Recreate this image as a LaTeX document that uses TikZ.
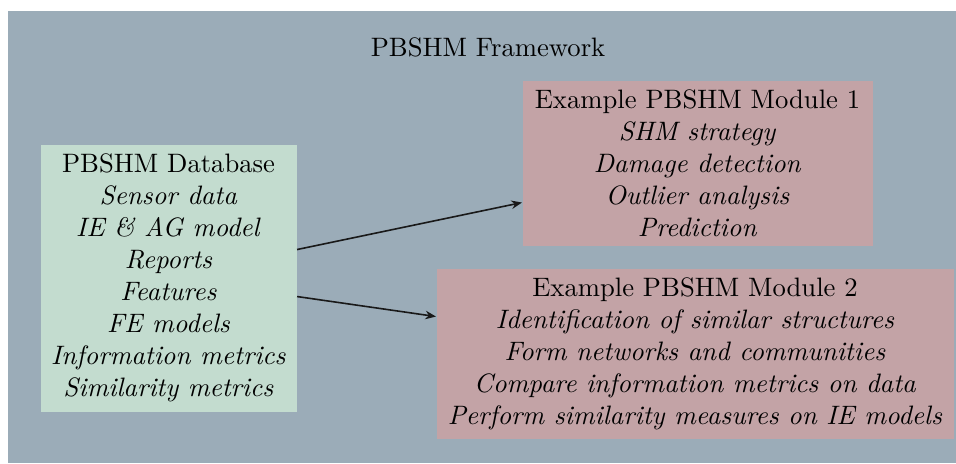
\documentclass[tikz,border=0pt]{standalone}
\usetikzlibrary{arrows.meta,calc}
\definecolor{bgframe}{HTML}{9BACB8}
\definecolor{dbgreen}{HTML}{C3DCCF}
\definecolor{modpink}{HTML}{C3A3A6}
\begin{document}
\begin{tikzpicture}[x=0.3752pt,y=-0.3752pt,
  box/.style={align=center, inner sep=0pt, anchor=north west},
  conn/.style={-{Stealth[length=4pt,width=3.2pt]}, semithick, black!90}]
\useasboundingbox (0,0) rectangle (956,463);
\fill[bgframe] (8,11) rectangle (956,463);
\node[anchor=base] (title) at (488,56.7) {PBSHM Framework};
\node[box, fill=dbgreen, minimum width={256*0.3752pt}, minimum height={267*0.3752pt}] (db) at (40,144)
  {PBSHM Database\\ \textit{Sensor data}\\ \textit{IE \& AG model}\\ \textit{Reports}\\ \textit{Features}\\ \textit{FE models}\\ \textit{Information metrics}\\ \textit{Similarity metrics}};
\node[box, fill=modpink, minimum width={350*0.3752pt}, minimum height={165*0.3752pt}] (m1) at (522,80)
  {Example PBSHM Module 1\\ \textit{SHM strategy}\\ \textit{Damage detection}\\ \textit{Outlier analysis}\\ \textit{Prediction}};
\node[box, fill=modpink, minimum width={517*0.3752pt}, minimum height={170*0.3752pt}] (m2) at (436,268)
  {Example PBSHM Module 2\\ \textit{Identification of similar structures}\\ \textit{Form networks and communities}\\ \textit{Compare information metrics on data}\\ \textit{Perform similarity measures on IE models}};
\draw[conn] ($(db.east)+(0,-28.5)$) -- ($(m1.west)+(0,39.5)$);
\draw[conn] ($(db.east)+(0,18.5)$) -- ($(m2.west)+(0,-37)$);
\end{tikzpicture}
\end{document}
